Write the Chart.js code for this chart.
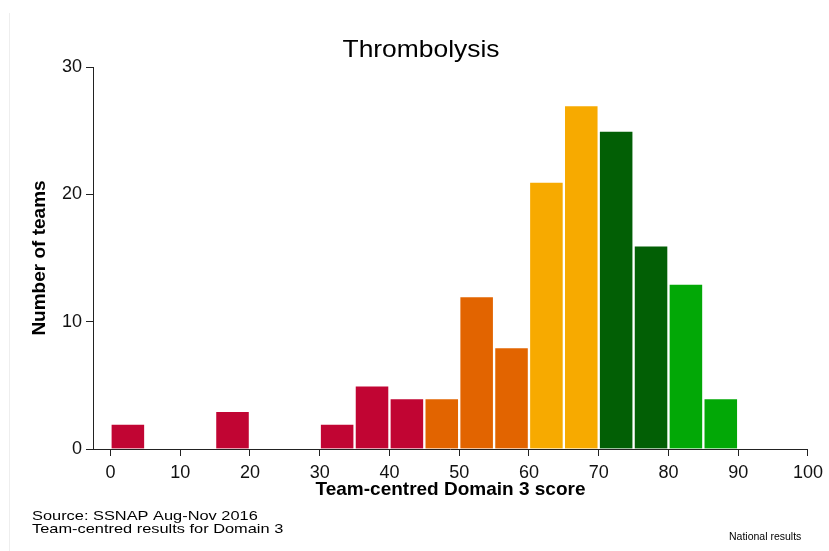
<!DOCTYPE html>
<html>
<head>
<meta charset="utf-8">
<title>Thrombolysis</title>
<script src="https://cdn.jsdelivr.net/npm/chart.js@4/dist/chart.umd.min.js"></script>
<style>
  html, body { margin: 0; padding: 0; background: #fff; }
  #wrap { width: 829px; height: 551px; position: relative; }
</style>
</head>
<body>
<div id="wrap"><canvas id="grafico"></canvas></div>
<script>
// dados do histograma (início de cada faixa de 5 pontos)
const binStarts = [0, 5, 10, 15, 20, 25, 30, 35, 40, 45, 50, 55, 60, 65, 70, 75, 80, 85];
const teamCounts = [2, 0, 0, 3, 0, 0, 2, 5, 4, 4, 12, 8, 21, 27, 25, 16, 13, 4];
const binWidth = 5;
const xTicks = [0, 10, 20, 30, 40, 50, 60, 70, 80, 90, 100];
const yTicks = [0, 10, 20, 30];

// cores por faixa
const red = '#c10533', orange = '#e26400', amber = '#f7aa00', darkGreen = '#025f05', green = '#02a806';
const binColours = [red, red, red, red, red, red, red, red, red,
    orange, orange, orange, amber, amber, darkGreen, darkGreen, green, green];

const fonte = '"Liberation Sans", Arial, sans-serif';

// textos fora dos eixos (título, rodapé)
const textosExtras = {
    id: 'textosExtras',
    afterDraw(chart) {
        const ctx = chart.ctx;
        ctx.save();
        // borda clara à esquerda
        ctx.strokeStyle = '#eeeeee';
        ctx.lineWidth = 1;
        ctx.beginPath();
        ctx.moveTo(9.5, 13);
        ctx.lineTo(9.5, 551);
        ctx.stroke();

        ctx.fillStyle = '#000';
        ctx.textBaseline = 'alphabetic';
        ctx.textAlign = 'center';
        ctx.font = '24px ' + fonte;
        ctx.save();
        ctx.translate(421, 57);
        ctx.scale(1.1, 1);
        ctx.fillText('Thrombolysis', 0, 0);
        ctx.restore();

        ctx.textAlign = 'left';
        ctx.font = '13px ' + fonte;
        ctx.save();
        ctx.translate(32, 0);
        ctx.scale(1.26, 1);
        ctx.fillText('Source: SSNAP Aug-Nov 2016', 0, 520);
        ctx.fillText('Team-centred results for Domain 3', 0, 533);
        ctx.restore();

        ctx.font = '10.5px ' + fonte;
        ctx.fillText('National results', 729, 540);
        ctx.restore();
    }
};

const ctx = document.getElementById('grafico').getContext('2d');
new Chart(ctx, {
    type: 'bar',
    data: {
        datasets: [{
            data: binStarts.map((s, i) => ({ x: s + binWidth / 2, y: teamCounts[i] || null })),
            backgroundColor: binColours,
            borderColor: '#ffffff',
            borderWidth: 1.5,
            barPercentage: 1,
            categoryPercentage: 1
        }]
    },
    options: {
        responsive: true,
        maintainAspectRatio: false,
        animation: false,
        layout: { padding: { left: 28, right: 20, top: 67, bottom: 50 } },
        plugins: {
            legend: { display: false },
            tooltip: { enabled: false }
        },
        scales: {
            x: {
                type: 'linear',
                min: -2.5,
                max: 100,
                offset: false,
                afterBuildTicks: s => { s.ticks = xTicks.map(v => ({ value: v })); },
                afterFit: s => { s.height = 52; },
                grid: { display: true, offset: false, drawOnChartArea: false, drawTicks: true, tickLength: 7, color: '#222' },
                border: { display: true, color: '#222', width: 1 },
                ticks: { color: '#111', font: { family: fonte, size: 18 }, padding: 6, maxRotation: 0 },
                title: {
                    display: true,
                    text: 'Team-centred Domain 3 score',
                    color: '#000',
                    font: { family: fonte, size: 19, weight: 'bold' },
                    padding: 0
                }
            },
            y: {
                min: 0,
                max: 30,
                afterBuildTicks: s => { s.ticks = yTicks.map(v => ({ value: v })); },
                afterFit: s => { s.width = 65; },
                grid: { display: true, drawOnChartArea: false, drawTicks: true, tickLength: 7, color: '#222' },
                border: { display: true, color: '#222', width: 1 },
                ticks: { color: '#111', font: { family: fonte, size: 18 }, padding: 4 },
                title: {
                    display: true,
                    text: 'Number of teams',
                    color: '#000',
                    font: { family: fonte, size: 19, weight: 'bold' },
                    padding: 0
                }
            }
        }
    },
    plugins: [textosExtras]
});
</script>
</body>
</html>
